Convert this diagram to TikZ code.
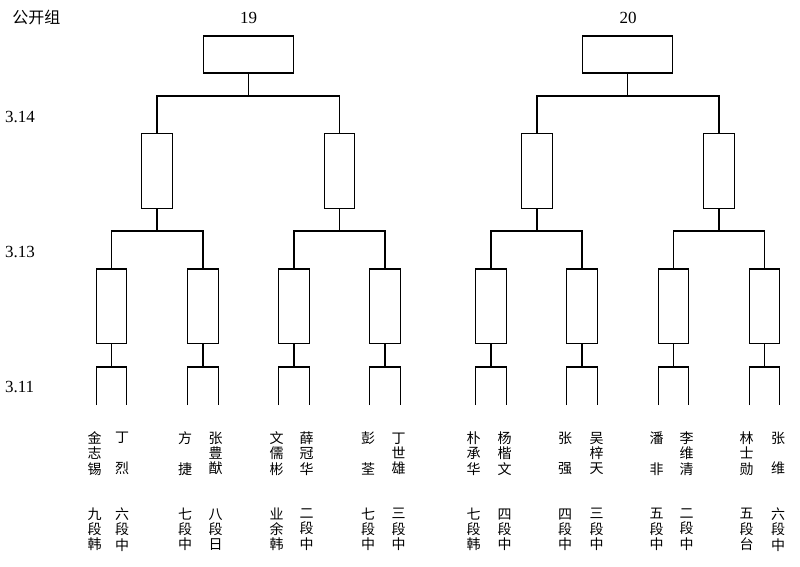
\documentclass[tikz,border=0pt]{standalone}
\usepackage{fontspec}
\setmainfont{Liberation Serif}
\newfontfamily\cjk{Noto Sans CJK SC}
\begin{document}
\begin{tikzpicture}[x=1pt,y=-1pt,
  line width=1.2pt,
  topbox/.style={draw,rectangle,minimum width=90pt,minimum height=37pt,inner sep=0pt},
  matchbox/.style={draw,rectangle,minimum width=30.5pt,minimum height=74.6pt,inner sep=0pt},
  datelabel/.style={anchor=west,inner sep=0pt,font=\fontsize{17}{17}\selectfont},
  numlabel/.style={inner sep=0pt,font=\fontsize{17}{17}\selectfont},
  player/.style={inner sep=0pt,align=center,font=\cjk\fontsize{14}{15.2}\selectfont}]
\path[use as bounding box,fill=white] (0,0) rectangle (800,566);

% headings
\node[inner sep=0pt,font=\cjk\fontsize{16}{16}\selectfont] (title) at (36.5,17) {公开组};
\node[numlabel] (n19) at (248.5,17.5) {19};
\node[numlabel] (n20) at (628,17.5) {20};
\node[datelabel] (d14) at (4.5,116.5) {3.14};
\node[datelabel] (d13) at (4.5,251.5) {3.13};
\node[datelabel] (d11) at (4.5,386.5) {3.11};

% final boxes
\node[topbox] (T19) at (248.3,54.5) {};
\node[topbox] (T20) at (627.8,54.5) {};

% semifinal boxes
\node[matchbox] (S1) at (157,171) {};
\node[matchbox] (S2) at (339.5,171) {};
\node[matchbox] (S3) at (537,171) {};
\node[matchbox] (S4) at (719,171) {};

% quarterfinal boxes
\foreach \i/\x in {1/111.5,2/203,3/294,4/385,5/491,6/582,7/673.5,8/764.5}{
  \node[matchbox] (Q\i) at (\x,306.3) {};
}

% connectors final -> semis
\coordinate (j19) at (T19.south |- 0,96);
\coordinate (j20) at (T20.south |- 0,96);
\draw (T19.south) -- (j19);
\draw (S1.north) |- (j19) -| (S2.north);
\draw (T20.south) -- (j20);
\draw (S3.north) |- (j20) -| (S4.north);

% connectors semis -> quarters
\foreach \s/\a/\b in {1/1/2,2/3/4,3/5/6,4/7/8}{
  \coordinate (k\s) at (S\s.south |- 0,231);
  \draw (S\s.south) -- (k\s);
  \draw (Q\a.north) |- (k\s) -| (Q\b.north);
}

% forks below quarters
\foreach \i in {1,...,8}{
  \coordinate (f\i) at (Q\i.south |- 0,367);
  \coordinate (pa\i) at ([xshift=-15.2pt]Q\i.south |- 0,405);
  \coordinate (pb\i) at ([xshift=15.2pt]Q\i.south |- 0,405);
  \draw (Q\i.south) -- (f\i);
  \draw (pa\i) |- (f\i) -| (pb\i);
}

% players
\foreach \k/\x/\nm/\rk in {
  1/94.5/{金\\志\\锡}/{九\\段\\韩},
  2/122/{丁\\\phantom{中}\\烈}/{六\\段\\中},
  3/185/{方\\\phantom{中}\\捷}/{七\\段\\中},
  4/215.5/{张\\豊\\猷}/{八\\段\\日},
  5/276.5/{文\\儒\\彬}/{业\\余\\韩},
  6/306.5/{薛\\冠\\华}/{二\\段\\中},
  7/368/{彭\\\phantom{中}\\荃}/{七\\段\\中},
  8/398.5/{丁\\世\\雄}/{三\\段\\中},
  9/473.5/{朴\\承\\华}/{七\\段\\韩},
  10/504.5/{杨\\楷\\文}/{四\\段\\中},
  11/565/{张\\\phantom{中}\\强}/{四\\段\\中},
  12/596.5/{吴\\梓\\天}/{三\\段\\中},
  13/656.5/{潘\\\phantom{中}\\非}/{五\\段\\中},
  14/686.5/{李\\维\\清}/{二\\段\\中},
  15/746.5/{林\\士\\勋}/{五\\段\\台},
  16/778/{张\\\phantom{中}\\维}/{六\\段\\中}}{
  \node[player] (name\k) at (\x,453.5) {\nm};
  \node[player] (rank\k) at (\x,529.5) {\rk};
}
\end{tikzpicture}
\end{document}
